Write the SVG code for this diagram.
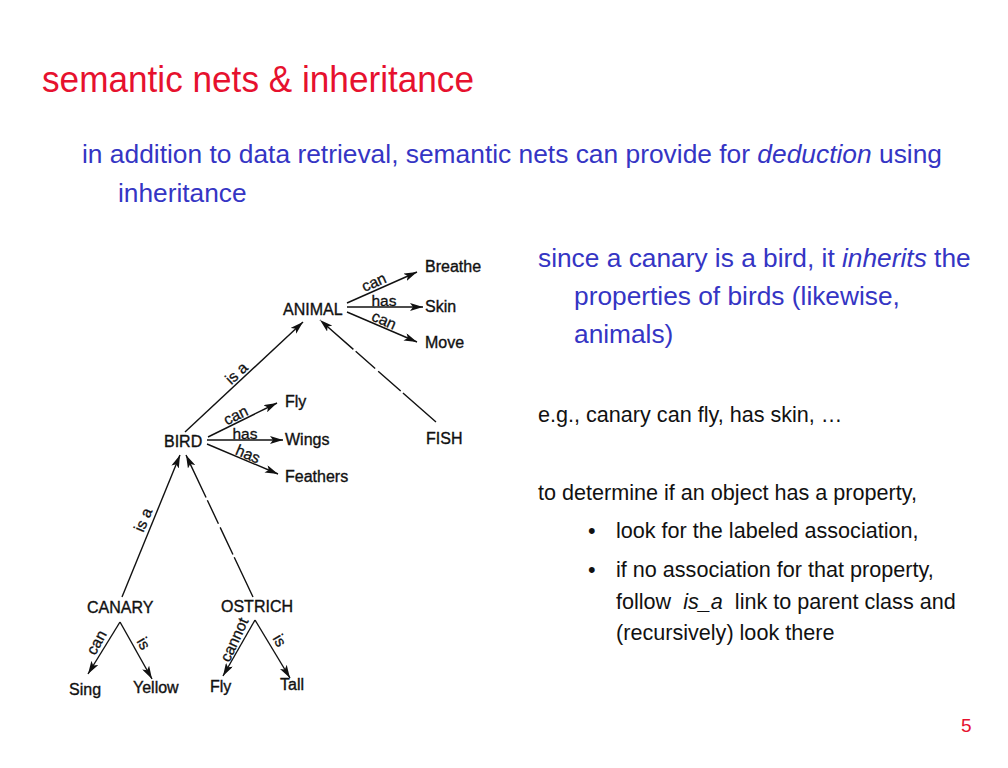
<svg xmlns="http://www.w3.org/2000/svg" width="1008" height="768" viewBox="0 0 1008 768">
<style>
.title{font-family:"Liberation Sans",Arial,sans-serif;font-size:36px;fill:#E6112E}
.blue{font-family:"Liberation Sans",Arial,sans-serif;font-size:26.3px;fill:#3535C4}
.body{font-family:"Liberation Sans",Arial,sans-serif;font-size:21.6px;fill:#111}
.node{font-family:"Liberation Sans",Arial,sans-serif;font-size:16px;fill:#111;stroke:#111;stroke-width:0.35}
.lbl{font-family:"Liberation Sans",Arial,sans-serif;font-size:15.5px;fill:#111;stroke:#111;stroke-width:0.3;text-anchor:middle}
.edge{stroke:#111;stroke-width:1.4;fill:none;marker-end:url(#arr)}
.brk{stroke-dasharray:44 3 30 4 26 3 40 4}
.pg{font-family:"Liberation Sans",Arial,sans-serif;font-size:19px;fill:#E6112E}
</style>
<defs>
<marker id="arr" viewBox="0 0 13 8" refX="13" refY="4" markerWidth="13" markerHeight="8" orient="auto" markerUnits="userSpaceOnUse">
<path d="M0,0 L13,4 L0,8 L3,4 z" fill="#111"/>
</marker>
</defs>
<rect width="1008" height="768" fill="#fff"/>

<g id="heading">
<text class="title" x="42" y="92" textLength="432" lengthAdjust="spacingAndGlyphs">semantic nets &amp; inheritance</text>
<text class="blue" x="82" y="163" textLength="860" lengthAdjust="spacingAndGlyphs">in addition to data retrieval, semantic nets can provide for <tspan font-style="italic">deduction</tspan> using</text>
<text class="blue" x="118" y="202">inheritance</text>
</g>

<g id="explanation">
<text class="blue" x="538" y="267">since a canary is a bird, it <tspan font-style="italic">inherits</tspan> the</text>
<text class="blue" x="574" y="305">properties of birds (likewise,</text>
<text class="blue" x="574" y="343">animals)</text>
<text class="body" x="538" y="422">e.g., canary can fly, has skin, …</text>
<text class="body" x="538" y="500">to determine if an object has a property,</text>
<text class="body" x="588" y="538">•</text>
<text class="body" x="616" y="538">look for the labeled association,</text>
<text class="body" x="588" y="577">•</text>
<text class="body" x="616" y="577">if no association for that property,</text>
<text class="body" x="616" y="609">follow&#160; <tspan font-style="italic">is_a</tspan>&#160; link to parent class and</text>
<text class="body" x="616" y="640">(recursively) look there</text>
<text class="pg" x="961" y="732">5</text>
</g>

<g id="connectors">
<line class="edge" x1="347" y1="303" x2="417" y2="272"/>
<line class="edge" x1="347" y1="307" x2="423" y2="307"/>
<line class="edge" x1="347" y1="312" x2="417" y2="342"/>
<line class="edge" x1="185" y1="432" x2="303" y2="322"/>
<line class="edge brk" x1="436" y1="422" x2="320" y2="320"/>
<line class="edge" x1="208" y1="437" x2="277" y2="403"/>
<line class="edge" x1="207" y1="440" x2="283" y2="440"/>
<line class="edge" x1="207" y1="444" x2="278" y2="474"/>
<line class="edge" x1="122" y1="597" x2="180" y2="455"/>
<line class="edge brk" x1="253" y1="597" x2="186" y2="455"/>
<line class="edge" x1="120" y1="622" x2="88" y2="674"/>
<line class="edge" x1="120" y1="622" x2="152" y2="679"/>
<line class="edge" x1="255" y1="620" x2="223" y2="676"/>
<line class="edge" x1="255" y1="620" x2="290" y2="678"/>
<text class="lbl" transform="translate(376,287) rotate(-24)">can</text>
<text class="lbl" x="384" y="306">has</text>
<text class="lbl" transform="translate(382,325) rotate(24)">can</text>
<text class="lbl" transform="translate(240,377) rotate(-43)">is a</text>
<text class="lbl" transform="translate(238,420) rotate(-26)">can</text>
<text class="lbl" x="245" y="439">has</text>
<text class="lbl" transform="translate(246,459) rotate(23)">has</text>
<text class="lbl" transform="translate(148,522) rotate(-67)">is a</text>
<text class="lbl" transform="translate(101,645) rotate(-61)">can</text>
<text class="lbl" transform="translate(139,646) rotate(60)">is</text>
<text class="lbl" transform="translate(239,642) rotate(-65)">cannot</text>
<text class="lbl" transform="translate(275,643) rotate(60)">is</text>
</g>

<g id="node-animal"><text class="node" x="283" y="315">ANIMAL</text></g>
<g id="node-breathe"><text class="node" x="425" y="272">Breathe</text></g>
<g id="node-skin"><text class="node" x="425" y="312">Skin</text></g>
<g id="node-move"><text class="node" x="425" y="348">Move</text></g>
<g id="node-bird"><text class="node" x="164" y="447">BIRD</text></g>
<g id="node-fly1"><text class="node" x="285" y="407">Fly</text></g>
<g id="node-wings"><text class="node" x="285" y="445">Wings</text></g>
<g id="node-feathers"><text class="node" x="285" y="482">Feathers</text></g>
<g id="node-fish"><text class="node" x="426" y="444">FISH</text></g>
<g id="node-canary"><text class="node" x="87" y="613">CANARY</text></g>
<g id="node-ostrich"><text class="node" x="221" y="612">OSTRICH</text></g>
<g id="node-sing"><text class="node" x="69" y="695">Sing</text></g>
<g id="node-yellow"><text class="node" x="133" y="693">Yellow</text></g>
<g id="node-fly2"><text class="node" x="210" y="692">Fly</text></g>
<g id="node-tall"><text class="node" x="280" y="690">Tall</text></g>
</svg>
